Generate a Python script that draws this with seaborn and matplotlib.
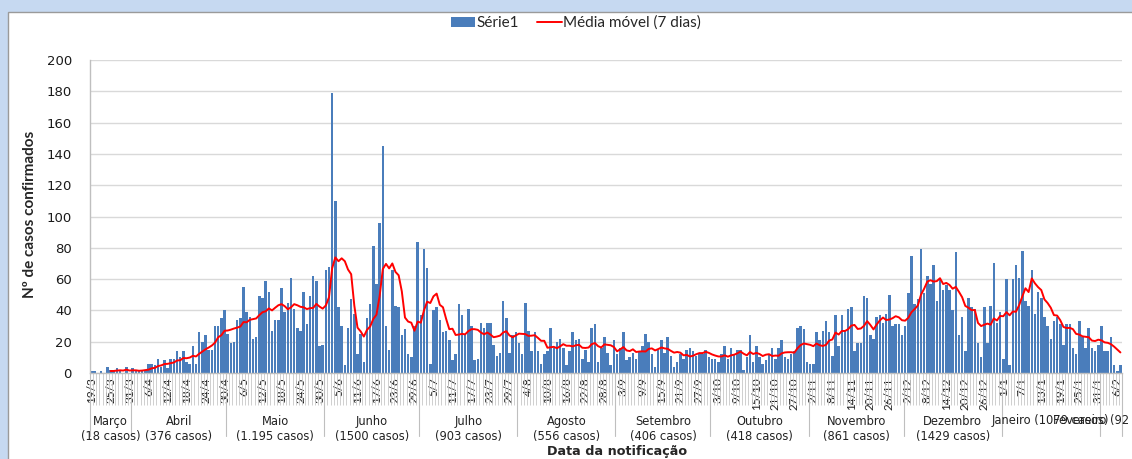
import numpy as np
import pandas as pd
import seaborn as sns
import matplotlib.pyplot as plt
import matplotlib.transforms as mtransforms
from matplotlib.patches import Rectangle, Patch
from matplotlib.lines import Line2D

# casos diarios por mes (19/3/2020 - 7/2/2021)
marco = [1, 1, 0, 1, 0, 4, 2, 1, 3, 1, 0, 4, 0]
abril = [3, 1, 1, 2, 2, 6, 6, 5, 9, 4, 8, 3, 9, 9, 14, 10, 14, 7, 6, 17, 6, 26, 20, 24, 15, 15, 30, 30, 35, 40]
maio = [25, 19, 20, 34, 35, 55, 39, 36, 22, 23, 49, 48, 59, 52, 27, 34, 34, 54, 39, 45, 61, 41, 29, 27, 52, 31,
        49, 62, 59, 17, 18]
junho = [66, 68, 179, 110, 42, 30, 5, 29, 47, 38, 12, 25, 7, 35, 44, 81, 57, 96, 145, 30, 15, 66, 43, 42, 24, 28,
         12, 10, 30, 84]
julho = [37, 79, 67, 6, 40, 42, 34, 26, 27, 21, 8, 12, 44, 37, 24, 41, 30, 8, 9, 32, 29, 32, 32, 18, 11, 13, 46,
         35, 13, 24, 26]
agosto = [19, 12, 45, 27, 14, 26, 14, 6, 12, 14, 29, 16, 20, 22, 16, 5, 14, 26, 21, 22, 9, 15, 7, 29, 31, 7, 16,
          23, 13, 5, 21]
setembro = [12, 16, 26, 8, 10, 13, 9, 14, 17, 25, 20, 12, 4, 15, 21, 13, 23, 11, 4, 7, 12, 9, 15, 16, 14, 11, 12,
            12, 15, 10]
outubro = [9, 9, 7, 12, 17, 9, 16, 12, 15, 15, 2, 10, 24, 7, 17, 10, 6, 8, 12, 16, 9, 16, 21, 10, 9, 12, 14, 29,
           30, 28, 7]
novembro = [6, 6, 26, 21, 27, 33, 26, 11, 37, 17, 37, 27, 41, 42, 14, 19, 19, 49, 48, 24, 22, 36, 37, 32, 38, 50,
            30, 31, 31, 24]
dezembro = [30, 51, 75, 44, 47, 79, 51, 62, 57, 69, 46, 60, 53, 56, 53, 40, 77, 24, 36, 14, 48, 42, 41, 19, 10,
            42, 19, 43, 70, 32, 39]
janeiro = [9, 60, 5, 60, 69, 61, 78, 46, 43, 66, 38, 52, 48, 36, 30, 22, 33, 36, 31, 18, 31, 31, 16, 12, 33, 23,
           16, 29, 16, 14, 18]
fevereiro = [30, 14, 14, 23, 5, 1, 5]

meses = [marco, abril, maio, junho, julho, agosto, setembro, outubro, novembro, dezembro, janeiro, fevereiro]
rotulos_meses = ["Março\n(18 casos)", "Abril\n(376 casos)", "Maio\n(1.195 casos)", "Junho\n(1500 casos)",
                 "Julho\n(903 casos)", "Agosto\n(556 casos)", "Setembro\n(406 casos)", "Outubro\n(418 casos)",
                 "Novembro\n(861 casos)", "Dezembro\n(1429 casos)", "Janeiro (1079 casos)",
                 "Fevereiro (92 casos)"]

casos = sum(meses, [])
n = len(casos)
datas = pd.date_range("2020-03-19", periods=n, freq="D")
df = pd.DataFrame({"dia": np.arange(n), "casos": casos})
df["media"] = df["casos"].rolling(7).mean()

sns.set_theme(style="white")
plt.rcParams["font.family"] = ["DejaVu Sans"]
fonte = ["Lato", "DejaVu Sans"]

W, H = 1132, 459
fig = plt.figure(figsize=(W / 100, H / 100), dpi=100, facecolor="#c6d9f1")
fundo = Rectangle((8 / W, -0.01), 1, (H - 12) / H + 0.01, transform=fig.transFigure,
                  facecolor="white", edgecolor="#9a9a9a", lw=1, zorder=-10)
fig.add_artist(fundo)

ax = fig.add_axes([90 / W, (H - 373) / H, (1122 - 90) / W, 313 / H])
ax.set_facecolor("white")
ax.set_zorder(1)

sns.barplot(data=df, x="dia", y="casos", color="#4a7dbb", saturation=1, width=0.8,
            edgecolor="none", linewidth=0, ax=ax)
sns.lineplot(data=df, x="dia", y="media", color="#ff0000", lw=1.4, ax=ax)

ax.set_xlim(-0.5, n - 0.5)
ax.set_ylim(0, 200)
ax.set_yticks(np.arange(0, 201, 20))
ax.yaxis.grid(True, color="#d9d9d9", lw=1)
ax.set_axisbelow(True)
ax.tick_params(axis="y", length=0, pad=13, labelsize=9.5, labelcolor="#1a1a1a")
for s in ["top", "right"]:
    ax.spines[s].set_visible(False)
for s in ["left", "bottom"]:
    ax.spines[s].set_color("#bfbfbf")
    ax.spines[s].set_linewidth(1)

pos = np.arange(0, n, 6)
ax.set_xticks(pos)
ax.set_xticklabels([f"{datas[i].day}/{datas[i].month}" for i in pos], rotation=90,
                   fontsize=8.5, family=fonte, color="#222222")
ax.set_xticks(np.arange(-0.5, n, 1), minor=True)
ax.tick_params(axis="x", which="major", length=0, pad=3)
ax.tick_params(axis="x", which="minor", length=23, width=0.6, color="#c8c8c8", bottom=True)
ax.set_xlabel("")
ax.set_ylabel("")

# separadores e rotulos dos meses
trans = mtransforms.blended_transform_factory(ax.transData, ax.transAxes)
limites = np.cumsum([0] + [len(m) for m in meses]) - 0.5
for b in limites:
    ax.plot([b, b], [0, -0.2], transform=trans, clip_on=False, color="#bfbfbf", lw=0.8)
for i, rot in enumerate(rotulos_meses):
    centro = (limites[i] + limites[i + 1]) / 2
    y = -0.178 if "\n" in rot else -0.151
    ax.text(centro, y, rot, transform=trans, ha="center", va="center", fontsize=8.3,
            linespacing=1.2, color="#222222")

fig.text(30 / W, 1 - 214 / H, "Nº de casos confirmados", rotation=90, ha="center", va="center",
         fontsize=11, fontweight="bold", family=fonte)
fig.text(617 / W, 1 - 452 / H, "Data da notificação", ha="center", va="center",
         fontsize=9.2, fontweight="bold")

handles = [Patch(facecolor="#4a7dbb", edgecolor="none"),
           Line2D([0], [0], color="#ff0000", lw=1.4)]
fig.legend(handles, ["Série1", "Média móvel (7 dias)"], loc="center", bbox_to_anchor=(576 / W, 1 - 23 / H),
           ncol=2, frameon=False, handlelength=1.6, handleheight=0.6, handletextpad=0.1,
           columnspacing=1.2, prop={"family": fonte, "size": 11})

fig.savefig("out.png", dpi=100, facecolor=fig.get_facecolor())
